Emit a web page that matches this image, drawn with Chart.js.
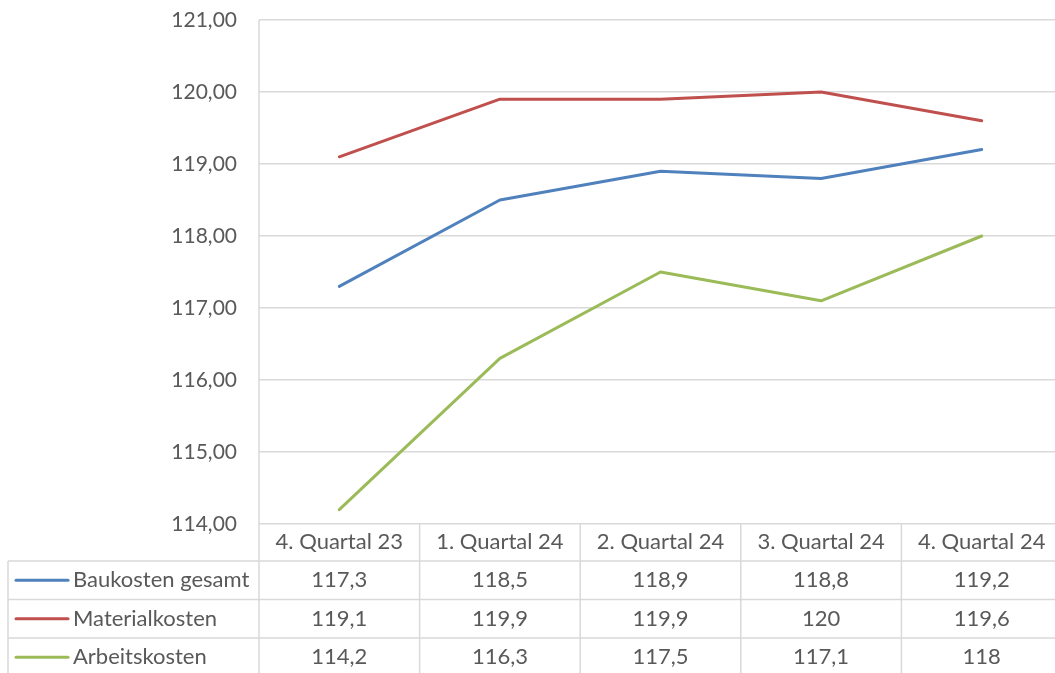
<!DOCTYPE html>
<html>
<head>
<meta charset="utf-8">
<script src="https://cdn.jsdelivr.net/npm/chart.js@4/dist/chart.umd.min.js"></script>
<style>
  html, body { margin: 0; padding: 0; background: #fff; overflow: hidden; }
  canvas { display: block; }
</style>
</head>
<body>
<canvas id="c" width="1063" height="673"></canvas>
<script>
const categories = ['4. Quartal 23', '1. Quartal 24', '2. Quartal 24', '3. Quartal 24', '4. Quartal 24'];
const seriesNames = ['Baukosten gesamt', 'Materialkosten', 'Arbeitskosten'];
const baukosten = [117.3, 118.5, 118.9, 118.8, 119.2];
const materialkosten = [119.1, 119.9, 119.9, 120, 119.6];
const arbeitskosten = [114.2, 116.3, 117.5, 117.1, 118];
const seriesColors = ['#4F81BD', '#C0504D', '#9BBB59'];
const yMin = 114, yMax = 121, yStep = 1;

const FONT = 'Lato, "Open Sans", sans-serif';
const TEXT = '#595959';
const GRID = '#d9d9d9';

const seriesData = [baukosten, materialkosten, arbeitskosten];

const fmtTable = v => String(v).replace('.', ',');

const tablePlugin = {
  id: 'dataTable',
  afterDraw(chart) {
    const ctx = chart.ctx;
    const xs = chart.scales.x;
    const a = chart.chartArea;
    const H = chart.height;
    const band = xs.getPixelForValue(1) - xs.getPixelForValue(0);
    const tableLeft = 8;
    const headerBottom = a.bottom + 37;
    const rowH = 38.5;
    ctx.save();
    ctx.strokeStyle = GRID;
    ctx.lineWidth = 1.5;
    for (let r = 0; r <= seriesNames.length; r++) {
      const y = headerBottom + r * rowH;
      ctx.beginPath();
      ctx.moveTo(tableLeft, y);
      ctx.lineTo(a.right, y);
      ctx.stroke();
    }
    ctx.beginPath();
    ctx.moveTo(tableLeft, headerBottom);
    ctx.lineTo(tableLeft, H);
    ctx.stroke();
    ctx.beginPath();
    ctx.moveTo(a.left, a.top);
    ctx.lineTo(a.left, H);
    ctx.stroke();
    for (let k = 1; k <= categories.length; k++) {
      const x = a.left + k * band;
      ctx.beginPath();
      ctx.moveTo(x, a.bottom);
      ctx.lineTo(x, H);
      ctx.stroke();
    }
    ctx.font = '22px ' + FONT;
    ctx.textBaseline = 'middle';
    seriesNames.forEach((name, r) => {
      const yc = headerBottom + r * rowH + rowH / 2;
      ctx.strokeStyle = seriesColors[r];
      ctx.lineWidth = 3;
      ctx.lineCap = 'round';
      ctx.beginPath();
      ctx.moveTo(16, yc);
      ctx.lineTo(68, yc);
      ctx.stroke();
      ctx.fillStyle = TEXT;
      ctx.textAlign = 'left';
      ctx.fillText(name, 73, yc);
      ctx.textAlign = 'center';
      seriesData[r].forEach((v, i) => {
        ctx.fillText(fmtTable(v), xs.getPixelForValue(i), yc);
      });
    });
    ctx.restore();
  }
};

new Chart(document.getElementById('c'), {
  type: 'line',
  data: {
    labels: categories,
    datasets: seriesNames.map((n, i) => ({
      label: n,
      data: seriesData[i],
      borderColor: seriesColors[i],
      backgroundColor: seriesColors[i],
      borderWidth: 3,
      pointRadius: 0,
      tension: 0,
      borderCapStyle: 'round',
      borderJoinStyle: 'round'
    }))
  },
  options: {
    responsive: false,
    animation: false,
    devicePixelRatio: 1,
    layout: { padding: { top: 20, right: 1, left: 0, bottom: 0 } },
    plugins: { legend: { display: false }, tooltip: { enabled: false } },
    scales: {
      x: {
        offset: true,
        grid: { display: false, drawTicks: false },
        border: { display: false },
        ticks: { color: TEXT, font: { family: FONT, size: 22 }, padding: 5, maxRotation: 0, autoSkip: false },
        afterFit(s) { s.height = 149; }
      },
      y: {
        min: yMin, max: yMax,
        grid: { color: GRID, lineWidth: 1.5, drawTicks: false },
        border: { display: false },
        ticks: {
          stepSize: yStep, color: TEXT, padding: 22,
          font: { family: FONT, size: 21 },
          callback: v => v.toFixed(2).replace('.', ',')
        },
        afterFit(s) { s.width = 259; s.paddingTop = 0; s.paddingBottom = 0; }
      }
    }
  },
  plugins: [tablePlugin]
});
</script>
</body>
</html>
